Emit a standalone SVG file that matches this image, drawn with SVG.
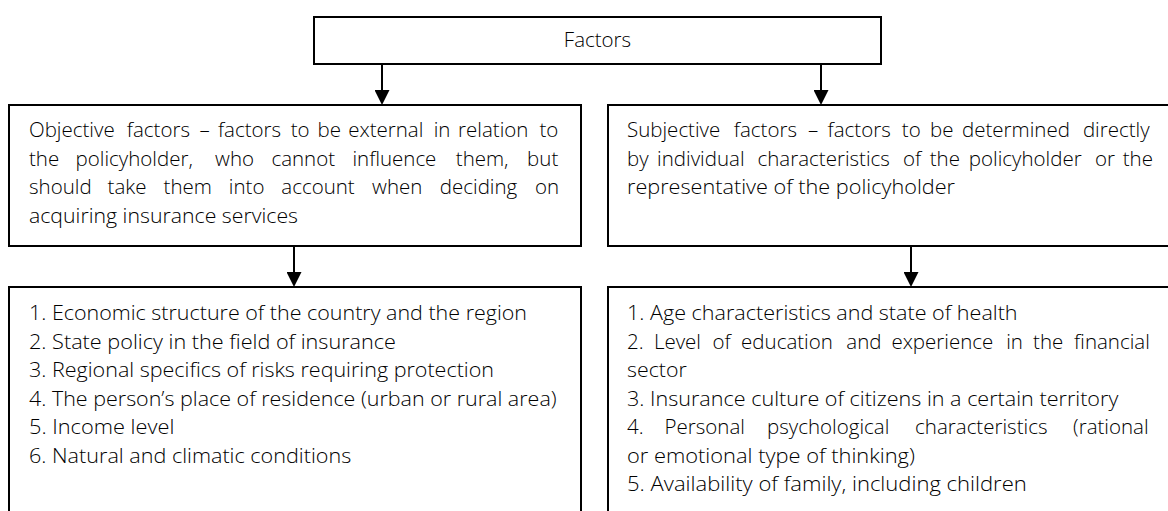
<svg xmlns="http://www.w3.org/2000/svg" width="1168" height="511" viewBox="0 0 1168 511">
<defs>
<style>
.box{fill:#fff;stroke:#000;stroke-width:2}
.t{font-family:"Open Sans","Noto Sans","Liberation Sans",sans-serif;font-weight:300;font-size:20.5px;fill:#000}
.conn line{stroke:#000;stroke-width:2}
</style>
<marker id="ah" viewBox="0 0 15 15" refX="6" refY="7.5" markerWidth="15" markerHeight="15" markerUnits="userSpaceOnUse" orient="auto">
<path d="M0,0 L15,7.5 L0,15 z" fill="#000"/>
</marker>
</defs>
<rect width="1168" height="511" fill="#fff"/>

<g id="n-factors">
<rect class="box" x="314" y="17" width="567" height="47"/>
<text class="t" x="597.5" y="47" text-anchor="middle">Factors</text>
</g>

<g id="n-objective">
<rect class="box" x="9" y="105" width="572" height="141"/>
<text class="t" y="137"><tspan x="29">Objective</tspan><tspan x="126.8">factors</tspan><tspan x="199.6">–</tspan><tspan x="217.9">factors</tspan><tspan x="290.7">to</tspan><tspan x="317.5">be</tspan><tspan x="348.2">external</tspan><tspan x="433.7">in</tspan><tspan x="458.1">relation</tspan><tspan x="539.5">to</tspan></text>
<text class="t" y="165.5"><tspan x="29">the</tspan><tspan x="75.6">policyholder,</tspan><tspan x="215.1">who</tspan><tspan x="271.4">cannot</tspan><tspan x="352.4">influence</tspan><tspan x="455.8">them,</tspan><tspan x="527.1">but</tspan></text>
<text class="t" y="194"><tspan x="29">should</tspan><tspan x="107.6">take</tspan><tspan x="163.6">them</tspan><tspan x="228.8">into</tspan><tspan x="281.3">account</tspan><tspan x="372.1">when</tspan><tspan x="439.8">deciding</tspan><tspan x="535">on</tspan></text>
<text class="t" x="29" y="222.5" textLength="269" lengthAdjust="spacingAndGlyphs">acquiring insurance services</text>
</g>

<g id="n-subjective">
<rect class="box" x="608" y="105" width="572" height="141"/>
<text class="t" y="137"><tspan x="627">Subjective</tspan><tspan x="733.8">factors</tspan><tspan x="808">–</tspan><tspan x="827.6">factors</tspan><tspan x="901.8">to</tspan><tspan x="930">be</tspan><tspan x="962">determined</tspan><tspan x="1082.9">directly</tspan></text>
<text class="t" y="165.5"><tspan x="627">by</tspan><tspan x="657.1">individual</tspan><tspan x="757.5">characteristics</tspan><tspan x="903">of</tspan><tspan x="929.7">the</tspan><tspan x="968.8">policyholder</tspan><tspan x="1095">or</tspan><tspan x="1122.7">the</tspan></text>
<text class="t" x="627" y="194" textLength="328" lengthAdjust="spacingAndGlyphs">representative of the policyholder</text>
</g>

<g id="n-objective-list">
<rect class="box" x="9" y="287" width="572" height="240"/>
<text class="t" x="29" y="320" textLength="498" lengthAdjust="spacingAndGlyphs">1. Economic structure of the country and the region</text>
<text class="t" x="29" y="348.5" textLength="367" lengthAdjust="spacingAndGlyphs">2. State policy in the field of insurance</text>
<text class="t" x="29" y="377" textLength="465" lengthAdjust="spacingAndGlyphs">3. Regional specifics of risks requiring protection</text>
<text class="t" x="29" y="405.5" textLength="527.6" lengthAdjust="spacingAndGlyphs">4. The person’s place of residence (urban or rural area)</text>
<text class="t" x="29" y="434" textLength="145.3" lengthAdjust="spacingAndGlyphs">5. Income level</text>
<text class="t" x="29" y="462.5" textLength="322.2" lengthAdjust="spacingAndGlyphs">6. Natural and climatic conditions</text>
</g>

<g id="n-subjective-list">
<rect class="box" x="608" y="287" width="572" height="240"/>
<text class="t" x="627" y="320" textLength="390.6" lengthAdjust="spacingAndGlyphs">1. Age characteristics and state of health</text>
<text class="t" y="348.5"><tspan x="627">2.</tspan><tspan x="653.9">Level</tspan><tspan x="712.5">of</tspan><tspan x="741.1">education</tspan><tspan x="846.3">and</tspan><tspan x="891.4">experience</tspan><tspan x="1006.2">in</tspan><tspan x="1033.1">the</tspan><tspan x="1074.1">financial</tspan></text>
<text class="t" x="627" y="377" textLength="59.7" lengthAdjust="spacingAndGlyphs">sector</text>
<text class="t" x="627" y="405.5" textLength="491.3" lengthAdjust="spacingAndGlyphs">3. Insurance culture of citizens in a certain territory</text>
<text class="t" y="434"><tspan x="627">4.</tspan><tspan x="664.5">Personal</tspan><tspan x="767.1">psychological</tspan><tspan x="915.1">characteristics</tspan><tspan x="1073.1">(rational</tspan></text>
<text class="t" x="627" y="462.5" textLength="287.9" lengthAdjust="spacingAndGlyphs">or emotional type of thinking)</text>
<text class="t" x="627" y="491" textLength="399.8" lengthAdjust="spacingAndGlyphs">5. Availability of family, including children</text>
</g>

<g id="connectors" class="conn">
<line x1="382" y1="64" x2="382" y2="96" marker-end="url(#ah)"/>
<line x1="821" y1="64" x2="821" y2="96" marker-end="url(#ah)"/>
<line x1="294" y1="246" x2="294" y2="278" marker-end="url(#ah)"/>
<line x1="911" y1="246" x2="911" y2="278" marker-end="url(#ah)"/>
</g>
</svg>
